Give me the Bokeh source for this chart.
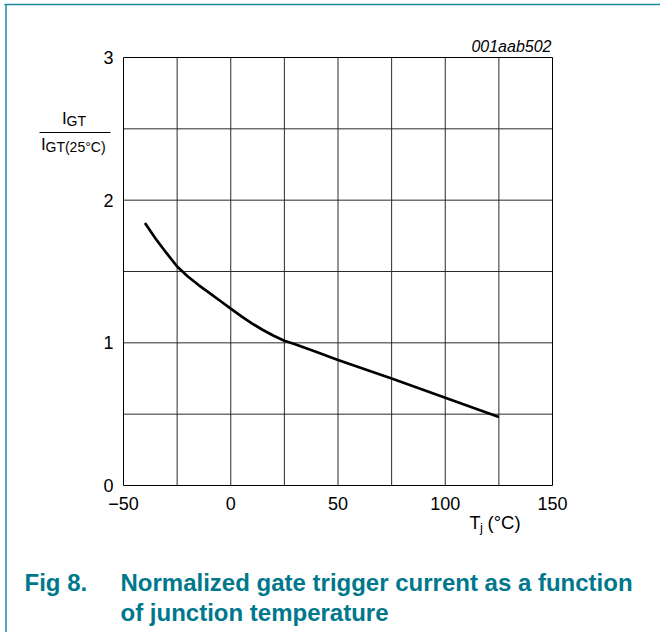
from bokeh.plotting import figure
from bokeh.models import FixedTicker, Label, Arrow, LinearAxis, Range1d
from bokeh.embed import file_html
from bokeh.resources import INLINE

# ---- data ----
temps = [-40, -35, -30, -25, -20, -15, -10, -5, 0, 5, 10, 15, 20, 25, 30, 40, 50, 75, 100, 125]
igt_ratio = [1.84, 1.73, 1.63, 1.535, 1.465, 1.405, 1.35, 1.295, 1.24, 1.185, 1.135, 1.09,
             1.05, 1.015, 0.99, 0.935, 0.88, 0.75, 0.615, 0.48]
x_ticks = [-50, 0, 50, 100, 150]
y_ticks = [0, 1, 2, 3]
x_grid = [-25, 0, 25, 50, 75, 100, 125]
y_grid = [0.5, 1, 1.5, 2, 2.5]
code_label = "001aab502"
caption_num = "Fig 8."
caption_lines = ["Normalized gate trigger current as a function", "of junction temperature"]

FONT = "Liberation Sans"
TEAL = "#00788C"

# ---- layout: the frame fills the canvas; chart area sits at px 123..552 x 57..485 ----
W, H = 660, 632
XL, XR, YT, YB = 123, 552, 57, 485
x0, x1 = min(x_ticks), max(x_ticks)
y0, y1 = min(y_ticks), max(y_ticks)
kx = (XR - XL) / (x1 - x0)
ky = (YB - YT) / (y1 - y0)
xr = Range1d(x0 - XL / kx, x1 + (W - XR) / kx)
yr = Range1d(y0 - (H - YB) / ky, y1 + YT / ky)

p = figure(width=W, height=H, x_range=xr, y_range=yr,
           x_axis_location=None, y_axis_location=None,
           output_backend="svg", toolbar_location=None,
           min_border=0, min_border_left=0, min_border_right=0,
           min_border_top=0, min_border_bottom=0)
p.outline_line_color = None
p.background_fill_color = "white"
p.border_fill_color = "white"
p.xgrid.visible = False
p.ygrid.visible = False

def style_axis(ax, standoff):
    ax.axis_line_color = None
    ax.major_tick_line_color = None
    ax.minor_tick_line_color = None
    ax.major_tick_out = 0
    ax.major_tick_in = 0
    ax.major_label_text_font = FONT
    ax.major_label_text_font_size = "18px"
    ax.major_label_text_color = "black"
    ax.major_label_standoff = standoff

xaxis = LinearAxis(fixed_location=y0, bounds=(x0, x1), ticker=FixedTicker(ticks=x_ticks))
xaxis.major_label_overrides = {t: (("\u2212" + str(-t)) if t < 0 else str(t)) for t in x_ticks}
style_axis(xaxis, 11)
p.add_layout(xaxis, "below")

yaxis = LinearAxis(fixed_location=x0, bounds=(y0, y1), ticker=FixedTicker(ticks=y_ticks))
style_axis(yaxis, 10)
p.add_layout(yaxis, "left")

# grid lines and frame of the chart area
p.segment(x0=x_grid, y0=[y0] * len(x_grid), x1=x_grid, y1=[y1] * len(x_grid),
          line_color="#2a2a2a", line_width=1)
p.segment(x0=[x0] * len(y_grid), y0=y_grid, x1=[x1] * len(y_grid), y1=y_grid,
          line_color="#2a2a2a", line_width=1)
p.quad(left=x0, right=x1, bottom=y0, top=y1, fill_color=None, line_color="black", line_width=1)

p.line(temps, igt_ratio, line_color="black", line_width=2.7, line_join="round")

def lab(px, base, text, size, bold=False, italic=False, color="black", align="left"):
    style = "normal"
    if bold and italic:
        style = "bold italic"
    elif bold:
        style = "bold"
    elif italic:
        style = "italic"
    p.add_layout(Label(x=px, y=base - 0.38 * size, x_units="canvas", y_units="canvas", text=text,
                       text_font=FONT,
                       text_font_size=f"{size}px", text_font_style=style,
                       text_color=color, text_align=align, text_baseline="alphabetic"))

def seg(xa, ya, xb, yb, color, width):
    p.add_layout(Arrow(x_start=xa, y_start=ya, x_end=xb, y_end=yb,
                       start_units="canvas", end_units="canvas",
                       end=None, line_color=color, line_width=width))

# page frame lines
seg(4, 4, W, 4, "#1A8C9C", 1.5)
seg(5.5, 4, 5.5, H, "#1A8C9C", 1.5)

# code label
lab(551, 52.5, code_label, 16, italic=True, align="right")

# y label fraction
lab(61.5, 124.5, "I", 17)
lab(66, 126, "GT", 14)
seg(39, 132, 110, 132, "black", 1)
lab(40.5, 150.5, "I", 17)
lab(45, 152, "GT(25\u00b0C)", 14)

# x label
lab(469, 529, "T", 18)
lab(479.5, 532, "j", 13)
lab(487, 529, "(\u00b0C)", 18.5)

# caption
lab(24, 591, caption_num, 24, bold=True, color=TEAL)
lab(120, 591, caption_lines[0], 24, bold=True, color=TEAL)
lab(120, 621, caption_lines[1], 24, bold=True, color=TEAL)

open("out.html", "w").write(file_html(p, INLINE))
